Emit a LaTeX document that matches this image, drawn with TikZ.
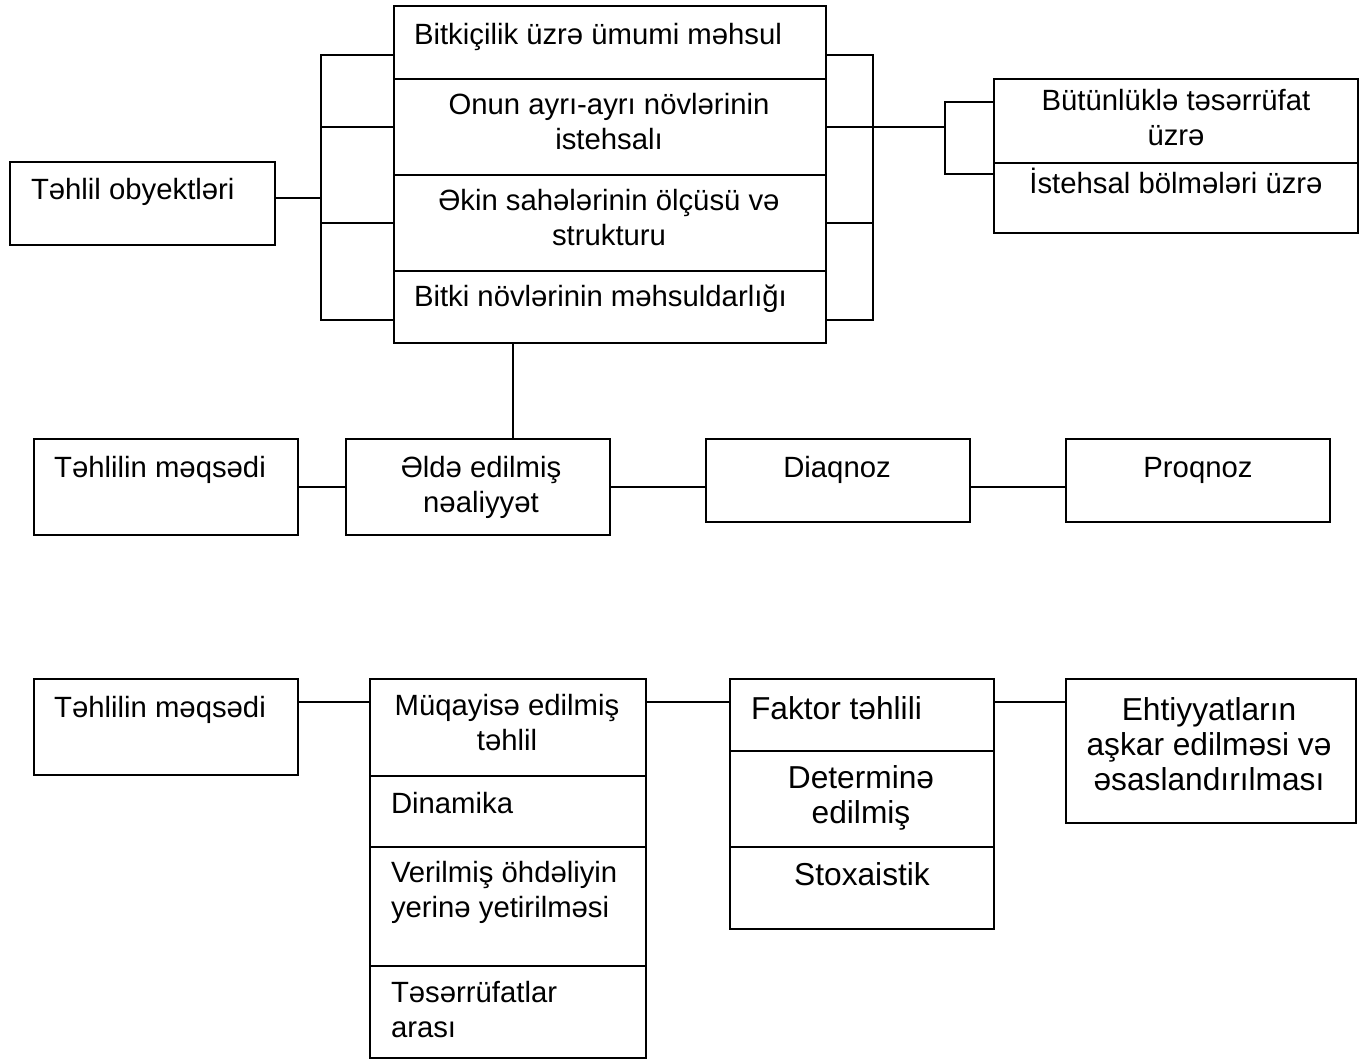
\documentclass[tikz,border=0pt]{standalone}
\usepackage{fontspec}
\setmainfont{Liberation Sans}
\usepackage{tikz}

\begin{document}
\begin{tikzpicture}[x=1pt,y=-1pt,line width=2pt,
    box node/.style={draw,rectangle,inner sep=0pt,anchor=north west},
    text node/.style={inner sep=0pt,align=center,anchor=base,font=\fontsize{29.3}{35}\selectfont},
    left node/.style={text node,align=left,anchor=base west},
    big node/.style={text node,font=\fontsize{31.7}{35}\selectfont}]
      \useasboundingbox (0,0) rectangle (1368,1059);

      % objects of analysis (text nodes sit on the baseline of their last line)
      \node[box node,minimum width=265,minimum height=83] (Ob) at (9,161) {};
      \node[box node,minimum width=432,minimum height=73] (B1) at (393,5) {};
      \node[box node,minimum width=432,minimum height=96] (B2) at (393,78) {};
      \node[box node,minimum width=432,minimum height=96] (B3) at (393,174) {};
      \node[box node,minimum width=432,minimum height=72] (B4) at (393,270) {};
      \node[box node,minimum width=364,minimum height=84] (F1) at (993,78) {};
      \node[box node,minimum width=364,minimum height=70] (F2) at (993,162) {};

      \node[left node] (Obt) at (30,200) {Təhlil obyektləri};
      \node[left node] (B1t) at (413,45) {Bitkiçilik üzrə ümumi məhsul};
      \node[text node] (B2t) at (609,150) {Onun ayrı-ayrı növlərinin\\istehsalı};
      \node[text node] (B3t) at (609,246) {Əkin sahələrinin ölçüsü və\\strukturu};
      \node[left node] (B4t) at (413,307) {Bitki növlərinin məhsuldarlığı};
      \node[text node] (F1t) at (1176,146) {Bütünlüklə təsərrüfat\\üzrə};
      \node[text node] (F2t) at (1176,194) {İstehsal bölmələri üzrə};

      \coordinate (LB) at (321,198);
      \coordinate (RB) at (873,126);
      \coordinate (FB) at (945,126);
      \draw (Ob.east |- LB) -- (LB);
      \draw ([yshift=25pt]B1.south west) -| (LB) |- ([yshift=24pt]B4.south west);
      \draw (B2.west) -- (LB |- B2.west);
      \draw (B3.west) -- (LB |- B3.west);
      \draw ([yshift=25pt]B1.south east) -| (RB) |- ([yshift=24pt]B4.south east);
      \draw (B3.east) -- (RB |- B3.east);
      \draw (B2.east) -- (B2.east -| FB);
      \draw ([yshift=-24pt]F1.north west) -| (FB) |- ([yshift=-12pt]F2.north west);

      % achieved result
      \node[box node,minimum width=264,minimum height=96] (M1) at (33,438) {};
      \node[box node,minimum width=264,minimum height=96] (N) at (345,438) {};
      \node[box node,minimum width=264,minimum height=83] (D) at (705,438) {};
      \node[box node,minimum width=264,minimum height=83] (P) at (1065,438) {};

      \node[text node] (M1t) at (160,477) {Təhlilin məqsədi};
      \node[text node] (Nt) at (481,512) {Əldə edilmiş\\nəaliyyət};
      \node[text node] (Dt) at (837,477) {Diaqnoz};
      \node[text node] (Pt) at (1198,477) {Proqnoz};

      \coordinate (S) at (513,342);
      \draw (S) -- (S |- N.north);
      \draw (M1) -- (N);
      \draw (N.east) -- (N.east -| D.west);
      \draw (D.east |- N.east) -- (N.east -| P.west);

      % comparison and factor analysis
      \node[box node,minimum width=264,minimum height=96] (M2) at (33,678) {};
      \node[box node,minimum width=276,minimum height=97] (C1) at (369,678) {};
      \node[box node,minimum width=276,minimum height=71] (C2) at (369,775) {};
      \node[box node,minimum width=276,minimum height=119] (C3) at (369,846) {};
      \node[box node,minimum width=276,minimum height=92] (C4) at (369,965) {};
      \node[box node,minimum width=264,minimum height=72] (K1) at (729,678) {};
      \node[box node,minimum width=264,minimum height=96] (K2) at (729,750) {};
      \node[box node,minimum width=264,minimum height=82] (K3) at (729,846) {};
      \node[box node,minimum width=290,minimum height=144] (E) at (1065,678) {};

      \node[text node] (M2t) at (160,717) {Təhlilin məqsədi};
      \node[text node] (C1t) at (507,750) {Müqayisə edilmiş\\təhlil};
      \node[left node] (C2t) at (390,813) {Dinamika};
      \node[left node] (C3t) at (390,917) {Verilmiş öhdəliyin\\yerinə yetirilməsi};
      \node[left node] (C4t) at (390,1037) {Təsərrüfatlar\\arası};
      \node[big node,align=left,anchor=base west] (K1t) at (750,719) {Faktor təhlili};
      \node[big node] (K2t) at (861,823) {Determinə\\edilmiş};
      \node[big node] (K3t) at (862,885) {Stoxaistik};
      \node[big node] (Et) at (1209,790) {Ehtiyyatların\\aşkar edilməsi və\\əsaslandırılması};

      \draw ([yshift=-24pt]M2.north east) -- ([yshift=-24pt]C1.north west);
      \draw ([yshift=-24pt]C1.north east) -- ([yshift=-24pt]K1.north west);
      \draw ([yshift=-24pt]K1.north east) -- ([yshift=-24pt]E.north west);
\end{tikzpicture}
\end{document}
